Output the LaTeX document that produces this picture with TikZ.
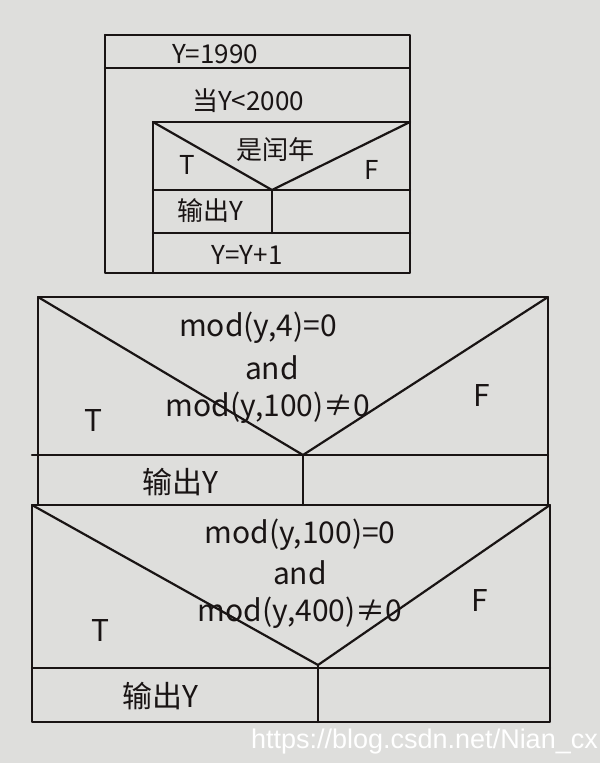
\documentclass[tikz,border=0pt]{standalone}
\usepackage{fontspec}
\setmainfont{Noto Sans CJK SC}
\newfontfamily\wmfont{Liberation Sans}
\definecolor{paper}{RGB}{222,222,220}
\definecolor{ink}{RGB}{25,20,20}
\begin{document}
\begin{tikzpicture}[x=1pt,y=-1pt,
  ln/.style={draw=ink,line width=2.2pt,line cap=round,line join=round},
  lbl/.style={text=ink,font=\fontsize{26}{28}\selectfont,inner sep=0pt},
  big/.style={text=ink,font=\fontsize{30}{32}\selectfont,inner sep=0pt}]
\fill[paper] (0,0) rectangle (600,763);
\useasboundingbox (0,0) rectangle (600,763);
% ---------- top diagram ----------
\coordinate (a1) at (105,35);  \coordinate (a2) at (410,35);
\coordinate (b1) at (105,68);  \coordinate (b2) at (410,68);
\coordinate (c1) at (153,122); \coordinate (c2) at (410,122);
\coordinate (tip1) at (272,190);
\coordinate (d0) at (153,190); \coordinate (d2) at (410,190);
\coordinate (e0) at (153,233); \coordinate (e1) at (272,233); \coordinate (e2) at (410,233);
\coordinate (f0) at (105,273); \coordinate (f1) at (153,273); \coordinate (f2) at (410,273);
\draw[ln] (a1) -- (a2) -- (b2) -- (b1);
\draw[ln] (a1) -- (f0) -- (f2) -- (e2) -- (d2) -- (c2) -- (b2);
\draw[ln] (c1) -- (c2);
\draw[ln] (c1) -- (f1);
\draw[ln] (c1) -- (tip1) -- (c2);
\draw[ln] (d0) -- (d2);
\draw[ln] (tip1) -- (e1);
\draw[ln] (e0) -- (e2);
\node[lbl] (t1) at (215,54) {Y=1990};
\node[lbl] (t2) at (248,101) {当Y<2000};
\node[lbl] (t3) at (275,150) {是闰年};
\node[lbl] (t4) at (187,165) {T};
\node[lbl] (t5) at (372,170) {F};
\node[lbl] (t6) at (210,211) {输出Y};
\node[lbl] (t7) at (247,255) {Y=Y+1};
% ---------- second diagram ----------
\coordinate (g1) at (38,297);  \coordinate (g2) at (548,297);
\coordinate (tip2) at (303,455);
\coordinate (h0) at (38,455);  \coordinate (h2) at (548,455);
\coordinate (i0) at (38,505);  \coordinate (i1) at (303,505); \coordinate (i2) at (548,505);
\draw[ln] (g1) -- (g2) -- (h2) -- (i2) -- (i0) -- (h0) -- cycle;
\draw[ln] (g1) -- (tip2) -- (g2);
\draw[ln] (32,455) -- (h2);
\draw[ln] (tip2) -- (i1);
\node[big] (m1) at (258,328) {mod(y,4)=0};
\node[big] (m2) at (272,368) {and};
\node[big] (m3) at (268,408) {mod(y,100)≠0};
\node[big] (m4) at (93,420) {T};
\node[big] (m5) at (482,395) {F};
\node[big] (m6) at (180,482) {输出Y};
% ---------- third diagram ----------
\coordinate (j1) at (32,505);  \coordinate (j2) at (550,505);
\coordinate (tip3) at (318,665);
\coordinate (k0) at (32,668);  \coordinate (k2) at (550,668);
\coordinate (l0) at (32,722);  \coordinate (l1) at (318,722); \coordinate (l2) at (550,722);
\draw[ln] (j1) -- (j2) -- (k2) -- (l2) -- (l0) -- (k0) -- cycle;
\draw[ln] (j1) -- (tip3) -- (j2);
\draw[ln] (k0) -- (k2);
\draw[ln] (tip3) -- (l1);
\node[big] (n1) at (300,535) {mod(y,100)=0};
\node[big] (n2) at (300,573) {and};
\node[big] (n3) at (300,613) {mod(y,400)≠0};
\node[big] (n4) at (100,630) {T};
\node[big] (n5) at (480,600) {F};
\node[big] (n6) at (160,696) {输出Y};
% watermark
\node[text=white,font=\wmfont\fontsize{27}{29}\selectfont,inner sep=0pt,anchor=east] (wm) at (598,742) {https://blog.csdn.net/Nian\_cx};
\end{tikzpicture}
\end{document}
